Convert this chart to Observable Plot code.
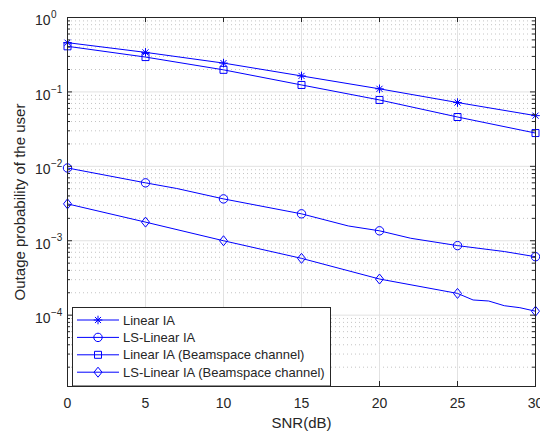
<!DOCTYPE html>
<html><head><meta charset="utf-8">
<script src="https://cdn.jsdelivr.net/npm/d3@7"></script>
<script src="https://cdn.jsdelivr.net/npm/@observablehq/plot@0.6"></script>
<style>
html,body{margin:0;padding:0;background:#fff;}
#wrap{position:relative;width:540px;height:433px;overflow:hidden;font-family:"Liberation Sans",Arial,sans-serif;}
#legend{position:absolute;}
</style></head><body><div id="wrap"></div>
<script>
// ---- data ----
const seriesNames = ["Linear IA", "LS-Linear IA", "Linear IA (Beamspace channel)", "LS-Linear IA (Beamspace channel)"];
const snrLinearIA = [0, 5, 10, 15, 20, 25, 30];
const linearIA = [0.459, 0.34, 0.244, 0.164, 0.110, 0.072, 0.048];
const snrLSLinearIA = [0, 5, 7, 10, 15, 18, 20, 22, 25, 28, 30];
const lsLinearIA = [0.0095, 0.0060, 0.00504, 0.00365, 0.0023, 0.00158, 0.00136, 0.00108, 0.00086, 0.000716, 0.00061];
const snrLinearIABeam = [0, 5, 10, 15, 20, 25, 30];
const linearIABeam = [0.41, 0.294, 0.198, 0.124, 0.078, 0.046, 0.028];
const snrLSLinearIABeam = [0, 5, 10, 15, 20, 25, 26, 27, 28, 29, 30];
const lsLinearIABeam = [0.00313, 0.00178, 0.00100, 0.00058, 0.000306, 0.000196, 0.00016, 0.000155, 0.000134, 0.000126, 0.000113];
const markerSNR = [0, 5, 10, 15, 20, 25, 30];
const xTicks = [0, 5, 10, 15, 20, 25, 30];
const yDecades = [1, 0.1, 0.01, 0.001, 0.0001];
const yExponents = ["0", "\u22121", "\u22122", "\u22123", "\u22124"];
const yDomain = [1.1e-5, 1];
const xLabel = "SNR(dB)";
const yLabel = "Outage probability of the user";

// ---- build tables ----
const xs = [snrLinearIA, snrLSLinearIA, snrLinearIABeam, snrLSLinearIABeam];
const vs = [linearIA, lsLinearIA, linearIABeam, lsLinearIABeam];
const table = [];
seriesNames.forEach((name, i) => xs[i].forEach((s, j) => table.push({series: name, snr: s, value: vs[i][j]})));
const markers = table.filter(d => markerSNR.includes(d.snr));

const yMinor = [];
for (let e = -5; e <= -1; e++) for (let k = 2; k <= 9; k++) {
  const v = k * Math.pow(10, e);
  if (v >= yDomain[0] && v <= yDomain[1]) yMinor.push(v);
}

// ---- MATLAB-like marker shapes ----
const symStar = {draw(c) { const r = 4.3, d = r * Math.SQRT1_2;
  c.moveTo(-r, 0); c.lineTo(r, 0); c.moveTo(0, -r); c.lineTo(0, r);
  c.moveTo(-d, -d); c.lineTo(d, d); c.moveTo(-d, d); c.lineTo(d, -d); }};
const symCircle = {draw(c) { c.moveTo(4.2, 0); c.arc(0, 0, 4.2, 0, 2 * Math.PI); c.closePath(); }};
const symSquare = {draw(c) { c.moveTo(-3.5, -3.5); c.lineTo(3.5, -3.5); c.lineTo(3.5, 3.5); c.lineTo(-3.5, 3.5); c.closePath(); }};
const symDiamond = {draw(c) { c.moveTo(0, -5); c.lineTo(4, 0); c.lineTo(0, 5); c.lineTo(-4, 0); c.closePath(); }};
const symbols = [symStar, symCircle, symSquare, symDiamond];

const blue = "#0000ff";
const ink = "#262626";
const W = 540, H = 433, mL = 67, mR = 5, mT = 17, mB = 47;
const fw = W - mL - mR, fh = H - mT - mB;

const chart = Plot.plot({
  width: W, height: H,
  marginLeft: mL, marginRight: mR, marginTop: mT, marginBottom: mB,
  x: {domain: [0, 30], axis: null},
  y: {type: "log", domain: yDomain, axis: null},
  style: {fontFamily: "'Liberation Sans', Arial, sans-serif", color: ink, background: "white", overflow: "visible"},
  marks: [
    Plot.gridY(yMinor, {stroke: "#c4c4c4", strokeOpacity: 1, strokeDasharray: "1,3"}),
    Plot.gridX(xTicks, {stroke: "#e2e2e2", strokeOpacity: 1}),
    Plot.gridY(yDecades, {stroke: "#e2e2e2", strokeOpacity: 1}),
    Plot.line(table, {x: "snr", y: "value", z: "series", stroke: blue, strokeWidth: 1}),
    ...seriesNames.map((name, i) => Plot.dot(markers.filter(d => d.series === name),
      {x: "snr", y: "value", symbol: symbols[i], r: 4, stroke: blue, fill: "none", strokeWidth: 1})),
    Plot.frame({stroke: ink, strokeWidth: 1}),
    Plot.tickX(xTicks, {x: d => d, insetTop: fh - 5, stroke: ink}),
    Plot.tickX(xTicks, {x: d => d, insetBottom: fh - 5, stroke: ink}),
    Plot.tickY(yDecades, {y: d => d, insetRight: fw - 5, stroke: ink}),
    Plot.tickY(yDecades, {y: d => d, insetLeft: fw - 5, stroke: ink}),
    Plot.tickY(yMinor, {y: d => d, insetRight: fw - 3, stroke: ink}),
    Plot.tickY(yMinor, {y: d => d, insetLeft: fw - 3, stroke: ink}),
    Plot.text(xTicks, {x: d => d, frameAnchor: "bottom", dy: 17, text: d => String(d), fontSize: 14, fill: ink, lineAnchor: "middle", textAnchor: "middle"}),
    Plot.text(yDecades, {y: d => d, frameAnchor: "left", dx: -17, dy: 3.5, text: () => "10", textAnchor: "end", fontSize: 14, fill: ink, lineAnchor: "middle"}),
    Plot.text(yDecades, {y: d => d, frameAnchor: "left", dx: -16.5, dy: -2.5, text: (d, i) => yExponents[i], textAnchor: "start", fontSize: 10, fill: ink, lineAnchor: "middle"}),
    Plot.text([xLabel], {frameAnchor: "bottom", dy: 37, text: d => d, fontSize: 15, fill: ink, lineAnchor: "middle", textAnchor: "middle"}),
    Plot.text([yLabel], {frameAnchor: "left", dx: -47, rotate: -90, text: d => d, fontSize: 15, fill: ink, lineAnchor: "middle", textAnchor: "middle"})
  ]
});

const wrap = document.getElementById("wrap");
wrap.appendChild(chart);

// ---- legend (inside axes, south-west) ----
const lg = d3.select(wrap).append("svg").attr("id", "legend")
  .attr("width", 262).attr("height", 82)
  .style("left", "71px").style("top", "306px");
lg.append("rect").attr("x", 1.5).attr("y", 1.5).attr("width", 258).attr("height", 78.5)
  .attr("fill", "white").attr("stroke", ink).attr("stroke-width", 1);
seriesNames.forEach((name, i) => {
  const cy = 14 + i * 17.4;
  const g = lg.append("g").attr("transform", `translate(0,${cy})`);
  g.append("line").attr("x1", 6).attr("x2", 48).attr("y1", 0).attr("y2", 0)
    .attr("stroke", blue).attr("stroke-width", 1);
  g.append("path").attr("d", d3.symbol(symbols[i])()).attr("transform", "translate(27,0)")
    .attr("stroke", blue).attr("fill", "none").attr("stroke-width", 1);
  g.append("text").attr("x", 52).attr("y", 0).attr("dy", "0.35em")
    .attr("font-size", 13).attr("fill", ink)
    .attr("font-family", "'Liberation Sans', Arial, sans-serif").text(name);
});
</script></body></html>
